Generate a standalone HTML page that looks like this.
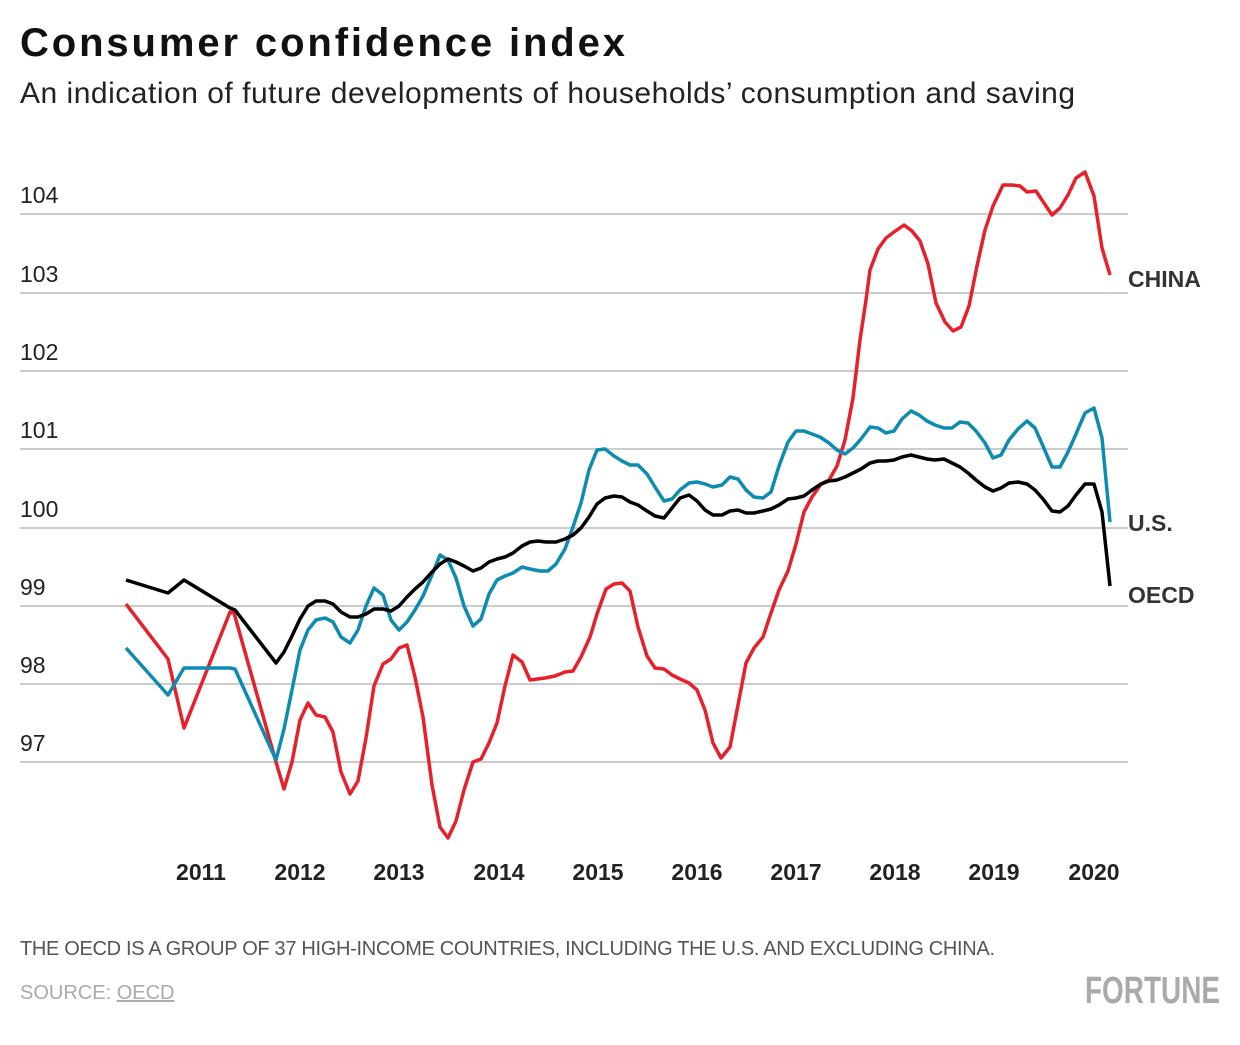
<!DOCTYPE html>
<html><head><meta charset="utf-8"><style>
body{margin:0;background:#fff;width:1240px;height:1040px;overflow:hidden;font-family:"Liberation Sans",sans-serif}
</style></head><body>
<svg width="1240" height="1040" xmlns="http://www.w3.org/2000/svg" font-family="Liberation Sans, sans-serif">
<text x="20" y="56" font-size="40" font-weight="bold" fill="#111" textLength="605">Consumer confidence index</text>
<text x="20" y="103" font-size="30" fill="#222" textLength="1055">An indication of future developments of households’ consumption and saving</text>
<g stroke="#cccccc" stroke-width="2">
<line x1="20" x2="1128" y1="214" y2="214"/><line x1="20" x2="1128" y1="293" y2="293"/>
<line x1="20" x2="1128" y1="371" y2="371"/><line x1="20" x2="1128" y1="449" y2="449"/>
<line x1="20" x2="1128" y1="528" y2="528"/><line x1="20" x2="1128" y1="606" y2="606"/>
<line x1="20" x2="1128" y1="684" y2="684"/><line x1="20" x2="1128" y1="762" y2="762"/>
</g>
<g font-size="23" fill="#222">
<text x="20" y="203">104</text><text x="20" y="282">103</text><text x="20" y="360">102</text><text x="20" y="438">101</text>
<text x="20" y="517">100</text><text x="20" y="595">99</text><text x="20" y="673">98</text><text x="20" y="751">97</text>
</g>
<g font-size="23" font-weight="bold" fill="#222" text-anchor="middle">
<text x="201" y="880">2011</text><text x="300" y="880">2012</text><text x="399" y="880">2013</text><text x="499" y="880">2014</text>
<text x="598" y="880">2015</text><text x="697" y="880">2016</text><text x="796" y="880">2017</text><text x="895" y="880">2018</text>
<text x="994" y="880">2019</text><text x="1094" y="880">2020</text>
</g>
<g fill="none" stroke-width="3.5" stroke-linejoin="round">
<polyline stroke="#e8202a" points="126,604 168,659 184,728 230,612 234,613 276,762 284,789 292,762 300,720 308,703 316,715 325,717 333,732 341,772 350,794 358,781 366,738 374,686 383,664 391,659 399,648 407,645 415,677 423,717 432,785 440,827 448,838 456,821 464,790 473,762 481,759 489,743 497,723 505,686 513,655 522,662 530,680 545,678 555,676 565,672 573,671 581,657 590,637 597,614 606,589 614,584 622,583 630,591 638,627 647,656 655,668 664,669 672,675 680,679 689,683 697,690 705,710 713,743 721,758 730,747 738,705 746,663 754,648 763,637 771,613 779,590 788,571 796,544 804,512 812,497 821,484 829,480 837,466 845,440 853,398 860,340 866,300 870,270 878,249 886,238 894,232 904,225 912,231 920,241 928,264 936,303 945,322 953,331 961,327 969,306 977,266 985,230 993,206 1003,185 1012,185 1020,186 1027,192 1036,191 1044,203 1052,215 1060,208 1068,195 1076,178 1085,172 1094,196 1102,248 1110,275"/>
<polyline stroke="#0e8bb0" points="126,648 168,695 184,668 230,668 235,669 276,760 284,729 292,690 300,650 308,630 316,620 325,618 333,622 341,637 350,643 358,630 366,606 374,588 383,595 391,620 399,630 407,622 415,610 423,596 432,575 440,555 448,560 456,578 464,606 473,626 481,619 489,594 497,580 505,576 513,573 522,567 530,569 540,571 548,571 556,564 565,549 573,527 581,503 589,470 597,450 605,449 614,456 622,461 630,465 638,465 647,474 655,487 664,501 672,499 680,490 689,483 697,482 705,484 713,487 722,485 730,477 738,479 746,490 754,497 763,498 771,492 779,466 788,442 796,431 804,431 812,434 820,437 829,443 837,450 845,454 853,448 861,439 870,427 878,428 886,433 894,431 902,419 911,411 919,415 927,421 935,425 944,428 952,428 960,422 968,423 976,431 985,443 993,458 1001,455 1009,440 1018,429 1027,421 1035,428 1043,446 1052,467 1060,467 1068,452 1076,434 1085,413 1094,408 1102,438 1110,522"/>
<polyline stroke="#000" points="126,580 168,593 184,580 230,608 235,610 276,663 284,652 292,636 300,619 308,606 316,601 325,601 333,604 341,612 350,617 358,617 366,614 374,609 383,609 391,611 399,606 407,597 415,589 423,582 432,572 440,564 448,559 456,562 464,566 473,571 481,568 489,562 497,559 505,557 513,553 522,546 530,542 538,541 546,542 556,542 565,539 573,535 581,528 589,517 597,504 605,498 614,496 622,497 630,502 638,505 647,511 655,516 664,518 672,508 680,498 689,495 697,501 705,510 713,515 722,515 730,511 738,510 746,513 754,513 763,511 771,509 779,505 788,499 796,498 804,496 812,490 821,484 829,481 837,480 845,477 853,473 861,469 870,463 878,461 886,461 894,460 902,457 911,455 919,457 927,459 935,460 944,459 952,463 960,467 968,473 976,480 985,487 993,491 1001,488 1009,483 1018,482 1027,484 1035,490 1043,499 1052,511 1060,512 1068,506 1076,495 1085,484 1094,484 1102,512 1110,586"/>
</g>
<g font-size="23" font-weight="bold" fill="#333">
<text x="1128" y="287">CHINA</text><text x="1128" y="531">U.S.</text><text x="1128" y="603">OECD</text>
</g>
<text x="20" y="955" font-size="20" fill="#555" textLength="975">THE OECD IS A GROUP OF 37 HIGH-INCOME COUNTRIES, INCLUDING THE U.S. AND EXCLUDING CHINA.</text>
<text x="20" y="999" font-size="20" fill="#aaa">SOURCE: <tspan text-decoration="underline">OECD</tspan></text>
<text x="1085" y="1003" font-size="38" font-weight="bold" fill="#aaa" textLength="135" lengthAdjust="spacingAndGlyphs">FORTUNE</text>
</svg>
</body></html>
